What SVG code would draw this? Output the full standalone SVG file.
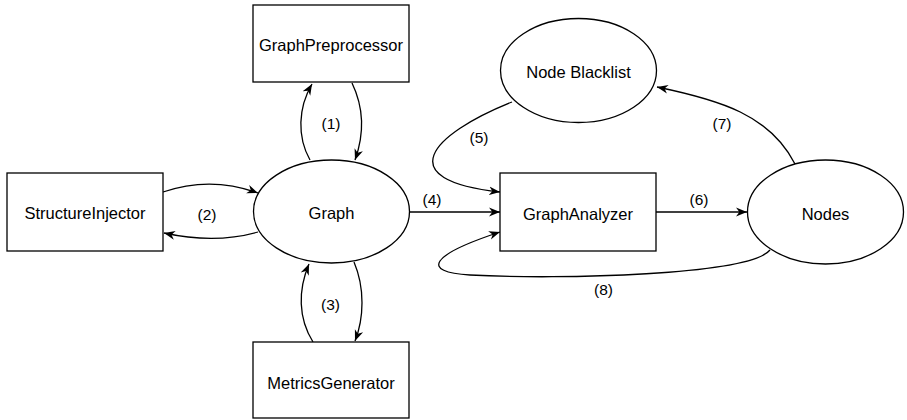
<svg xmlns="http://www.w3.org/2000/svg" width="907" height="420" viewBox="0 0 907 420">
  <style>
    .shape { fill: #ffffff; stroke: #000000; stroke-width: 1.3; }
    .lbl { font-family: "Liberation Sans", Helvetica, Arial, sans-serif; font-size: 16.5px; fill: #000000; text-anchor: middle; }
    .elbl { font-family: "Liberation Sans", Helvetica, Arial, sans-serif; font-size: 15.5px; fill: #000000; text-anchor: middle; }
    .edge { fill: none; stroke: #000000; stroke-width: 1.3; marker-end: url(#arrow); }
  </style>
  <defs>
    <marker id="arrow" viewBox="0 0 10 10" refX="10" refY="5" markerWidth="11" markerHeight="11" markerUnits="userSpaceOnUse" orient="auto">
      <path d="M0,1 L10,5 L0,9 L3,5 z" fill="#000000"/>
    </marker>
  </defs>
  <rect width="907" height="420" fill="#ffffff"/>

  <g id="connectors">
    <path class="edge" d="M310,160 C297,137 298,108 312,84"/>
    <path class="edge" d="M352,83 C364,108 364,135 355,160"/>
    <path class="edge" d="M163,192 C195,181 228,182 258,193"/>
    <path class="edge" d="M258,232 C230,240 196,240 164,233"/>
    <path class="edge" d="M313,342 C298,318 298,290 309,264"/>
    <path class="edge" d="M354,262 C365,288 364,318 355,341"/>
    <path class="edge" d="M409,212 L500,212"/>
    <path class="edge" d="M656,212 L747,212"/>
    <path class="edge" d="M512,102 C430,135 390,180 500,192"/>
    <path class="edge" d="M795,164 C770,115 720,100 657,87"/>
    <path class="edge" d="M770,250 C750,275 560,280 470,275 C420,272 430,255 500,232"/>
    <text class="elbl" x="331" y="129">(1)</text>
    <text class="elbl" x="207" y="220">(2)</text>
    <text class="elbl" x="330.5" y="310">(3)</text>
    <text class="elbl" x="432" y="205">(4)</text>
    <text class="elbl" x="479" y="143">(5)</text>
    <text class="elbl" x="699" y="205">(6)</text>
    <text class="elbl" x="722" y="129">(7)</text>
    <text class="elbl" x="603.5" y="295">(8)</text>
  </g>

  <g id="graph-preprocessor">
    <rect class="shape" x="253" y="5" width="156" height="77"/>
    <text class="lbl" x="331" y="51">GraphPreprocessor</text>
  </g>
  <g id="structure-injector">
    <rect class="shape" x="7" y="173" width="156" height="78"/>
    <text class="lbl" x="85" y="219">StructureInjector</text>
  </g>
  <g id="graph">
    <ellipse class="shape" cx="331.5" cy="211.5" rx="78" ry="51.5"/>
    <text class="lbl" x="331.5" y="219">Graph</text>
  </g>
  <g id="metrics-generator">
    <rect class="shape" x="253" y="342" width="156" height="76"/>
    <text class="lbl" x="331" y="388.5">MetricsGenerator</text>
  </g>
  <g id="graph-analyzer">
    <rect class="shape" x="500" y="173" width="156" height="78"/>
    <text class="lbl" x="578" y="219.5">GraphAnalyzer</text>
  </g>
  <g id="node-blacklist">
    <ellipse class="shape" cx="578.5" cy="70.5" rx="78" ry="52"/>
    <text class="lbl" x="578.5" y="78">Node Blacklist</text>
  </g>
  <g id="nodes">
    <ellipse class="shape" cx="825.5" cy="212" rx="78" ry="52"/>
    <text class="lbl" x="825.5" y="219.5">Nodes</text>
  </g>
</svg>
